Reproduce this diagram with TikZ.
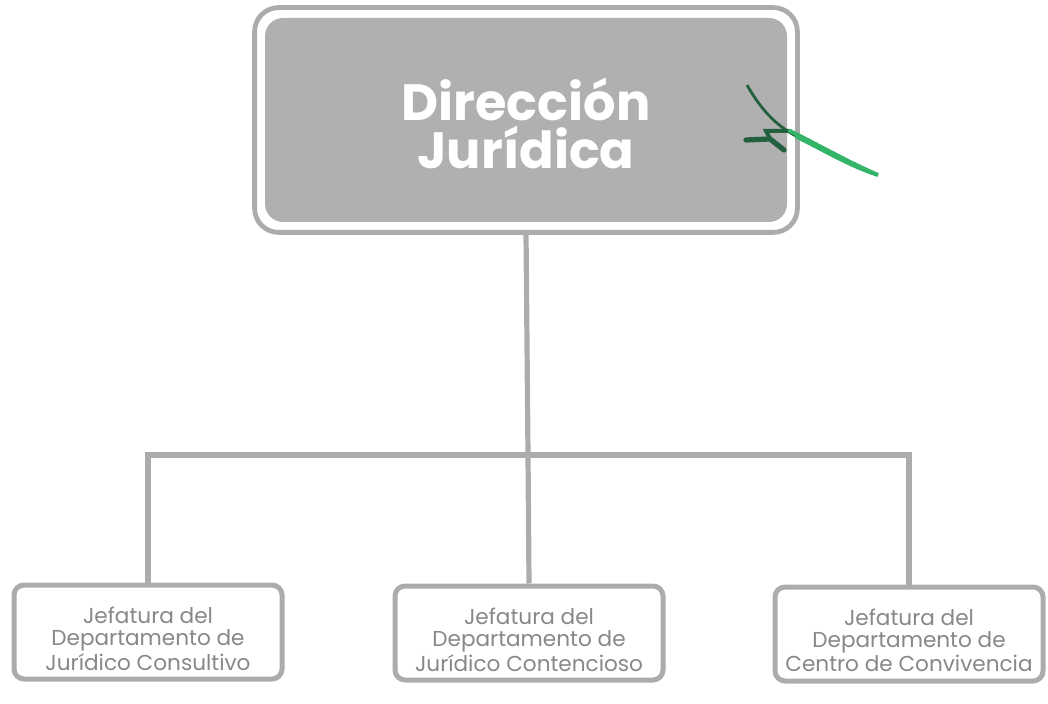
\documentclass[tikz,border=0pt]{standalone}
\usepackage{fontspec}
\setmainfont{Poppins}
\usetikzlibrary{calc}
\definecolor{linegray}{RGB}{172,172,172}
\definecolor{boxgray}{RGB}{176,176,176}
\definecolor{textgray}{RGB}{136,136,136}
\definecolor{pendark}{RGB}{34,96,62}
\definecolor{penlight}{RGB}{52,180,104}
\tikzset{
	jefebox/.style={draw=linegray, line width=2.5pt, rounded corners=5pt, fill=white,
		minimum width=134pt, minimum height=47pt, align=center, text=textgray,
		font=\fontsize{10.8}{11}\selectfont, inner sep=0pt},
	dirbox/.style={fill=boxgray, rounded corners=9pt, minimum width=261pt, minimum height=102pt,
		align=center, text=white, font=\fontsize{25.5}{24}\selectfont\bfseries, inner sep=0pt},
	conn/.style={draw=linegray, line width=2.6pt}
}

\begin{document}
\begin{tikzpicture}[x=0.5pt, y=-0.5pt]
				%%%%% START %%%%%
				\useasboundingbox (0,0) rectangle (1048,704);
				
				\node[dirbox] (dir) at (526,120) {\rule{0pt}{25pt}Dirección\\Jurídica};
				\draw[draw=linegray, line width=2.4pt, rounded corners=12pt]
					($(dir.north west)+(-10,-10)$) rectangle ($(dir.south east)+(10,10)$);
				
				\coordinate (bar) at (528,455);
				
				\node[jefebox] (jc) at (148,632) {\rule{0pt}{15pt}Jefatura del\\Departamento de\\Jurídico Consultivo};
				\node[jefebox] (jt) at (529,633) {\rule{0pt}{15pt}Jefatura del\\Departamento de\\Jurídico Contencioso};
				\node[jefebox] (jv) at (909,634) {\rule{0pt}{15pt}Jefatura del\\Departamento de\\Centro de Convivencia};
				
				\draw[conn] ($(dir.south)+(0,10)$) -- (bar);
				\draw[conn] (jc.north) |- (bar);
				\draw[conn] (jt.north) -- (bar);
				\draw[conn] (jv.north) |- (bar);
				
				% green pen mark
				\draw[pendark, line width=1.4pt] (747,85) .. controls (760,108) and (775,125) .. (796,136);
				\draw[pendark, line width=2.6pt, line cap=round] (746,140) -- (770,139) -- (784,150);
				\draw[pendark, line width=2pt, line cap=round] (770,139) -- (766,131) -- (790,131);
				\draw[penlight, line width=2pt, line cap=round] (790,131) .. controls (820,146) and (850,163) .. (878,175)
					.. controls (850,166) and (820,148) .. (797,137);
				%%%%% END %%%%%
			\end{tikzpicture}
\end{document}
